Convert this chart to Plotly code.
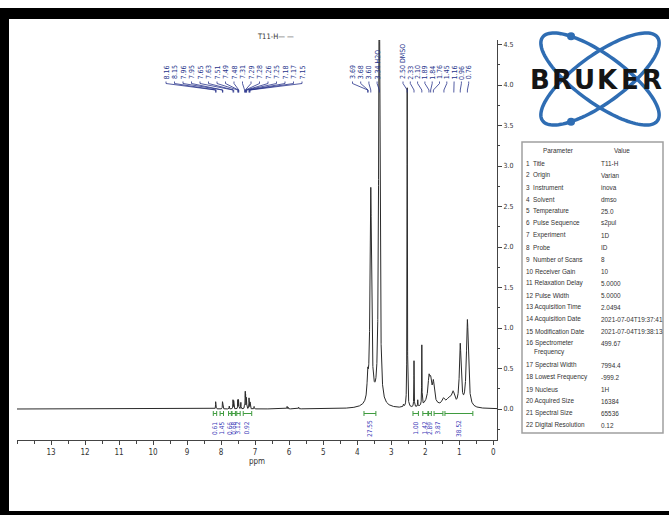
import numpy as np
import plotly.graph_objects as go

# ---------------- data ----------------
# spectrum peaks (ppm, intensity, half width in ppm)
peak_ppm = [8.16, 8.15, 7.96, 7.95, 7.76, 7.65, 7.63, 7.51, 7.49, 7.48, 7.42,
            7.31, 7.29, 7.28, 7.26, 7.25, 7.18, 7.17, 7.15, 7.03, 6.06, 6.03, 5.72,
            3.69, 3.60, 3.35, 3.50, 2.64, 2.53, 2.33, 2.22, 2.10, 1.89, 1.84, 1.76,
            1.85, 1.47, 1.30, 1.18, 0.97, 0.76]
peak_height = [0.08, 0.07, 0.08, 0.07, 0.035, 0.11, 0.10, 0.11, 0.10, 0.08, 0.08,
               0.11, 0.19, 0.15, 0.12, 0.10, 0.12, 0.10, 0.08, 0.03, 0.03, 0.02, 0.02,
               0.26, 2.62, 6.0, 0.08, 0.03, 3.95, 0.57, 0.08, 0.74, 0.24, 0.18, 0.22,
               0.13, 0.08, 0.10, 0.15, 0.76, 1.08]
peak_width = [0.004, 0.004, 0.004, 0.004, 0.004, 0.004, 0.004, 0.004, 0.004, 0.004, 0.004,
              0.004, 0.004, 0.004, 0.004, 0.004, 0.004, 0.004, 0.004, 0.004, 0.005, 0.005, 0.005,
              0.02, 0.025, 0.02, 0.2, 0.01, 0.006, 0.005, 0.005, 0.005, 0.03, 0.03, 0.03,
              0.15, 0.05, 0.1, 0.05, 0.03, 0.035]

# peak labels (three groups)
pl_text_a = ["8.16", "8.15", "7.96", "7.95", "7.65", "7.63", "7.51", "7.49", "7.48",
             "7.31", "7.29", "7.28", "7.26", "7.25", "7.18", "7.17", "7.15"]
pl_ppm_a = [8.16, 8.15, 7.96, 7.95, 7.65, 7.63, 7.51, 7.49, 7.48,
            7.31, 7.29, 7.28, 7.26, 7.25, 7.18, 7.17, 7.15]
pl_text_b = ["3.69", "3.68", "3.60", "3.34 H2O"]
pl_ppm_b = [3.69, 3.68, 3.60, 3.35]
pl_text_c = ["2.50 DMSO", "2.33", "2.10", "1.89", "1.84", "1.76", "1.45", "1.16", "0.96", "0.76"]
pl_ppm_c = [2.53, 2.33, 2.10, 1.89, 1.84, 1.76, 1.45, 1.16, 0.97, 0.76]

# integrals
int_from = [8.23, 8.03, 7.78, 7.68, 7.54, 7.35, 3.80, 2.36, 2.07, 1.90, 1.74, 1.42]
int_to = [8.13, 7.93, 7.70, 7.58, 7.44, 7.10, 3.45, 2.20, 1.92, 1.82, 1.48, 0.60]
int_vals = ["0.61", "1.45", "0.66", "0.68", "3.12", "0.92", "27.55",
            "1.00", "1.42", "2.89", "3.87", "38.52"]

x_ticks = list(range(13, -1, -1))
y_ticks = [0.0, 0.5, 1.0, 1.5, 2.0, 2.5, 3.0, 3.5, 4.0, 4.5]

table_params = ["1  Title", "2  Origin", "3  Instrument", "4  Solvent", "5  Temperature",
                "6  Pulse Sequence", "7  Experiment", "8  Probe", "9  Number of Scans",
                "10 Receiver Gain", "11 Relaxation Delay", "12 Pulse Width",
                "13 Acquisition Time", "14 Acquisition Date", "15 Modification Date",
                "16 Spectrometer", "17 Spectral Width", "18 Lowest Frequency",
                "19 Nucleus", "20 Acquired Size", "21 Spectral Size", "22 Digital Resolution"]
table_values = ["T11-H", "Varian", "inova", "dmso", "25.0", "s2pul", "1D", "ID", "8", "10",
                "5.0000", "5.0000", "2.0494", "2021-07-04T19:37:41", "2021-07-04T19:38:13",
                "499.67", "7994.4", "-999.2", "1H", "16384", "65536", "0.12"]

# ---------------- layout helpers ----------------
W, H = 669, 515
L, R, T, B = 17, 172, 40, 75
X_RANGE = [14.0, -0.11]
Y0_PX, Y_SCALE = 409.0, 81.0
Y_RANGE = [-(H - B - Y0_PX) / Y_SCALE, (Y0_PX - T) / Y_SCALE]
PW, PH = W - L - R, H - T - B


def px(x):
    return (x - L) / PW


def py(y):
    return (H - B - y) / PH


def ydat(y):
    return (Y0_PX - y) / Y_SCALE


def ppm_of_px(x):
    return X_RANGE[0] + (x - L) / PW * (X_RANGE[1] - X_RANGE[0])


FONT = "DejaVu Sans Condensed, Liberation Sans Narrow, Liberation Sans, Arial"
TFONT = "Liberation Sans, Arial"
NAVY = "#28348c"
BLUE_INT = "#3a3ab8"
GREEN = "#3f9b3f"

# ---------------- spectrum ----------------
xs = np.linspace(X_RANGE[0], X_RANGE[1], 24000)
ys = np.zeros_like(xs)
for c, h, w in zip(peak_ppm, peak_height, peak_width):
    ys += h / (1.0 + ((xs - c) / w) ** 2)

fig = go.Figure()
fig.add_trace(go.Scatter(x=xs, y=ys, mode="lines", line=dict(color="#2a2a2a", width=1),
                         hoverinfo="skip", showlegend=False))

# ---------------- peak labels ----------------
annotations = []
conn_x, conn_y = [], []
y_lab = ydat(81.5)
y_k1 = ydat(83.5)
y_k2 = ydat(90.0)
y_k3 = ydat(92.5)


def add_group(texts, ppms, start_px, step_px):
    for i, (t, p) in enumerate(zip(texts, ppms)):
        lx = ppm_of_px(start_px + i * step_px)
        annotations.append(dict(x=lx, y=y_lab, xref="x", yref="y", text=t, showarrow=False,
                                textangle=-90, xanchor="center", yanchor="bottom",
                                font=dict(family=FONT, size=7, color=NAVY)))
        conn_x.extend([lx, lx, p, p, None])
        conn_y.extend([y_lab, y_k1, y_k2, y_k3, None])


add_group(pl_text_a, pl_ppm_a, 166, 8.5)
add_group(pl_text_b, pl_ppm_b, 352.5, 8.2)
add_group(pl_text_c, pl_ppm_c, 403, 7.3)

fig.add_trace(go.Scatter(x=conn_x, y=conn_y, mode="lines", line=dict(color=NAVY, width=0.8),
                         hoverinfo="skip", showlegend=False, cliponaxis=False))

# ---------------- integrals ----------------
ix, iy = [], []
yb = ydat(413.5)
yt1, yt2 = ydat(411.0), ydat(416.0)
for a, b_, v in zip(int_from, int_to, int_vals):
    ix.extend([a, a, None, a, b_, None, b_, b_, None])
    iy.extend([yt1, yt2, None, yb, yb, None, yt1, yt2, None])
    annotations.append(dict(x=(a + b_) / 2, y=ydat(428), xref="x", yref="y", text=v,
                            showarrow=False, textangle=-90, xanchor="center", yanchor="middle",
                            font=dict(family=FONT, size=6.5, color=BLUE_INT)))
fig.add_trace(go.Scatter(x=ix, y=iy, mode="lines", line=dict(color=GREEN, width=1),
                         hoverinfo="skip", showlegend=False))

# ---------------- title ----------------
annotations.append(dict(x=px(255), y=py(37), xref="paper", yref="paper", text="T11-H\u2014 \u2014",
                        showarrow=False, xanchor="left", yanchor="middle",
                        font=dict(family=FONT, size=7.5, color="#333")))

# ---------------- parameter table ----------------
TCOL = "#333333"
TSIZE = 6.4
annotations.append(dict(x=px(558), y=py(150), xref="paper", yref="paper", text="Parameter",
                        showarrow=False, xanchor="center", yanchor="middle",
                        font=dict(family=TFONT, size=TSIZE, color=TCOL)))
annotations.append(dict(x=px(622), y=py(150), xref="paper", yref="paper", text="Value",
                        showarrow=False, xanchor="center", yanchor="middle",
                        font=dict(family=TFONT, size=TSIZE, color=TCOL)))
for i, (p, v) in enumerate(zip(table_params, table_values)):
    row_y = 163 + 12 * i if i < 16 else 365 + 12 * (i - 16)
    annotations.append(dict(x=px(524), y=py(row_y), xref="paper", yref="paper", text=p,
                            showarrow=False, xanchor="left", yanchor="middle",
                            font=dict(family=TFONT, size=TSIZE, color=TCOL)))
    annotations.append(dict(x=px(599), y=py(row_y), xref="paper", yref="paper", text=v,
                            showarrow=False, xanchor="left", yanchor="middle",
                            font=dict(family=TFONT, size=TSIZE, color=TCOL)))
    if i == 15:
        annotations.append(dict(x=px(532), y=py(row_y + 9), xref="paper", yref="paper",
                                text="Frequency", showarrow=False, xanchor="left",
                                yanchor="middle", font=dict(family=TFONT, size=TSIZE, color=TCOL)))

shapes = []
shapes.append(dict(type="rect", xref="paper", yref="paper", x0=px(522), x1=px(663),
                   y0=py(142), y1=py(433), line=dict(color="#a0a0a0", width=1.5)))

# ---------------- BRUKER logo ----------------
LOGO_BLUE = "#2f6db3"
cx, cy, a_, b_ = 600.0, 79.0, 71.0, 24.0
t = np.linspace(0, 2 * np.pi, 120)
ell = []
for ang in (36, -36):
    th = np.deg2rad(ang)
    ex = cx + a_ * np.cos(t) * np.cos(th) - b_ * np.sin(t) * np.sin(th)
    ey = cy + a_ * np.cos(t) * np.sin(th) + b_ * np.sin(t) * np.cos(th)
    ell.append((ex, ey))
    path = "M " + " L ".join(f"{px(xx):.5f},{py(yy):.5f}" for xx, yy in zip(ex, ey)) + " Z"
    shapes.append(dict(type="path", xref="paper", yref="paper", path=path,
                       line=dict(color=LOGO_BLUE, width=3.5)))
for (ex, ey), (tx, ty) in zip(ell, [(570, 42), (570, 118)]):
    k = int(np.argmin((ex - tx) ** 2 + (ey - ty) ** 2))
    shapes.append(dict(type="circle", xref="paper", yref="paper",
                       x0=px(ex[k] - 4), x1=px(ex[k] + 4), y0=py(ey[k] + 4), y1=py(ey[k] - 4),
                       fillcolor=LOGO_BLUE, line=dict(color=LOGO_BLUE, width=0)))
for i, ch in enumerate("BRUKER"):
    annotations.append(dict(x=px(540 + i * 22.4), y=py(80), xref="paper", yref="paper", text=f"<b>{ch}</b>",
                            showarrow=False, xanchor="center", yanchor="middle",
                            font=dict(family="DejaVu Sans, Liberation Sans", size=26, color="#151515")))

# ---------------- photo borders ----------------
for x0, x1, y0, y1 in [(0, 669, 8, 19), (0, 9, 8, 515), (0, 669, 511, 515)]:
    shapes.append(dict(type="rect", xref="paper", yref="paper", x0=px(x0), x1=px(x1),
                       y0=py(y1), y1=py(y0), fillcolor="#000000", line=dict(width=0)))

fig.update_layout(
    width=W, height=H, margin=dict(l=L, r=R, t=T, b=B, pad=0),
    paper_bgcolor="white", plot_bgcolor="white", showlegend=False,
    annotations=annotations, shapes=shapes,
    xaxis=dict(range=X_RANGE, tickvals=x_ticks, ticktext=[str(v) for v in x_ticks],
               ticks="outside", ticklen=4, tickcolor="#444", showline=True, linecolor="#444",
               linewidth=1, showgrid=False, zeroline=False,
               minor=dict(dtick=0.5, ticks="outside", ticklen=3, tickcolor="#444"),
               tickfont=dict(family=FONT, size=8, color="#333"),
               title=dict(text="ppm", font=dict(family=FONT, size=8, color="#333"), standoff=2)),
    yaxis=dict(range=Y_RANGE, side="right", tickvals=y_ticks, tickformat=".1f",
               ticks="outside", ticklen=4, tickcolor="#444", showline=True, linecolor="#444",
               linewidth=1, showgrid=False, zeroline=False,
               minor=dict(dtick=0.25, ticks="outside", ticklen=2, tickcolor="#444"),
               tickfont=dict(family=FONT, size=7, color="#333")),
)

fig.write_html("out.html")
